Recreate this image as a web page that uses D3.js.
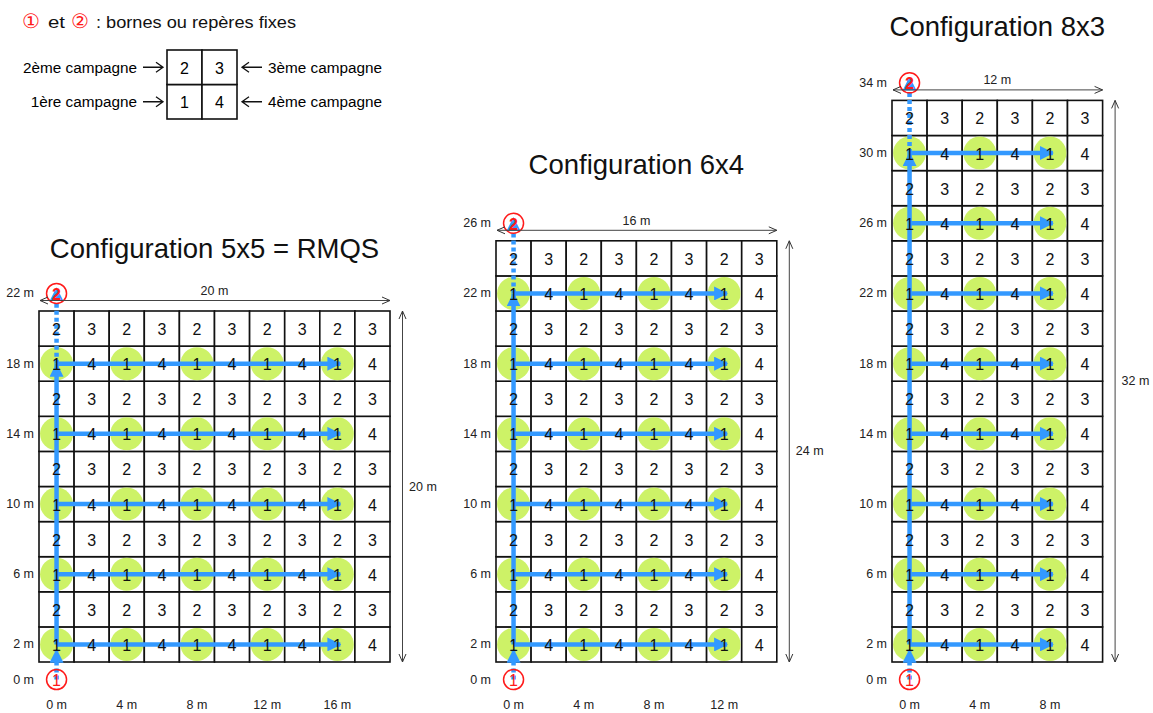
<!DOCTYPE html>
<html>
<head>
<meta charset="utf-8">
<script src="https://cdn.jsdelivr.net/npm/d3@7"></script>
<style>
  body { margin: 0; background: #fff; }
  svg { font-family: "Liberation Sans", Arial, sans-serif; }
</style>
</head>
<body>
<div id="chart"></div>
<script>
// Sampling plan: three grid configurations with campaign numbers per cell

const configNames = ["Configuration 5x5 = RMQS", "Configuration 6x4", "Configuration 8x3"];
const nCols = [10, 8, 6];
const nRows = [10, 12, 16];
const widthLabels = ["20 m", "16 m", "12 m"];
const heightLabels = ["20 m", "24 m", "32 m"];
const xTicks = [[0, 4, 8, 12, 16], [0, 4, 8, 12], [0, 4, 8]];
const yTicks = [
    [0, 2, 6, 10, 14, 18, 22],
    [0, 2, 6, 10, 14, 18, 22, 26],
    [0, 2, 6, 10, 14, 18, 22, 26, 30, 34]
];
// campaign number pattern: odd rows / even rows (counted from bottom)
const campaignPattern = [["1", "4"], ["2", "3"]];
const legendLeft = ["2ème campagne", "1ère campagne"];
const legendRight = ["3ème campagne", "4ème campagne"];
const markerLabels = ["1", "2"];

const width = 1153,
    height = 713,
    cell = 35.1,
    bottom = 662;

// layout of each configuration
const gridLeft = [39, 496, 892],
    titleY = [258, 174, 36];

const blue = "#3399ff",
    green = "#cdf267",
    red = "#ff1a1a";

let svg = d3.select("#chart")
    .append("svg")
    .attr("width", width)
    .attr("height", height)
    .attr("viewBox", [0, 0, width, height]);

// arrow markers
const defs = svg.append("defs");
defs.append("marker")
    .attr("id", "blueHead")
    .attr("markerUnits", "userSpaceOnUse")
    .attr("viewBox", "0 0 14 14")
    .attr("refX", 13).attr("refY", 7)
    .attr("markerWidth", 14).attr("markerHeight", 14)
    .attr("orient", "auto")
    .append("path")
    .attr("d", "M0,0 L14,7 L0,14 Z")
    .attr("fill", blue);

defs.append("marker")
    .attr("id", "grayHead")
    .attr("markerUnits", "userSpaceOnUse")
    .attr("viewBox", "0 0 10 10")
    .attr("refX", 9).attr("refY", 5)
    .attr("markerWidth", 10).attr("markerHeight", 10)
    .attr("orient", "auto-start-reverse")
    .append("path")
    .attr("d", "M1,1.5 L9,5 L1,8.5")
    .attr("fill", "none")
    .attr("stroke", "#333")
    .attr("stroke-width", 1);

// ---------- Legend ----------
const legend = svg.append("g");
const legParts = [
    {t: "①", red: true, x: 31},
    {t: "et", red: false, x: 48, len: 17},
    {t: "②", red: true, x: 80},
    {t: ": bornes ou repères fixes", red: false, x: 96, len: 200}
];
legend.selectAll(".legTitle")
    .data(legParts)
    .join("text")
    .attr("class", "legTitle")
    .attr("x", d => d.x)
    .attr("y", 28)
    .attr("text-anchor", d => d.red ? "middle" : "start")
    .attr("font-size", d => d.red ? 20 : 16)
    .attr("fill", d => d.red ? red : "#111")
    .attr("textLength", d => d.len || null)
    .attr("lengthAdjust", "spacingAndGlyphs")
    .text(d => d.t);

const legCell = {w: 35, h: 34.5, x: 167, y: 50};
const legX = d3.scaleBand().domain([0, 1]).range([legCell.x, legCell.x + 2 * legCell.w]);
const legY = d3.scaleBand().domain([1, 0]).range([legCell.y, legCell.y + 2 * legCell.h]);

for (let r of [0, 1]) {
    for (let c of [0, 1]) {
        legend.append("rect")
            .attr("x", legX(c)).attr("y", legY(r))
            .attr("width", legX.bandwidth()).attr("height", legY.bandwidth())
            .attr("fill", "#fff").attr("stroke", "#111").attr("stroke-width", 1.6);
        legend.append("text")
            .attr("x", legX(c) + legX.bandwidth() / 2)
            .attr("y", legY(r) + legY.bandwidth() / 2 + 1)
            .attr("text-anchor", "middle")
            .attr("dominant-baseline", "central")
            .attr("font-size", 16)
            .text(campaignPattern[r][c]);
    }
}

legendLeft.forEach((t, i) => {
    const yy = legY(1 - i) + legY.bandwidth() / 2;
    legend.append("text")
        .attr("x", 137).attr("y", yy)
        .attr("text-anchor", "end")
        .attr("dominant-baseline", "central")
        .attr("font-size", 15.3)
        .text(t);
    legend.append("path")
        .attr("d", `M143,${yy} L163,${yy} M156,${yy - 5} L163,${yy} L156,${yy + 5}`)
        .attr("fill", "none").attr("stroke", "#111").attr("stroke-width", 1.3);
});
legendRight.forEach((t, i) => {
    const yy = legY(1 - i) + legY.bandwidth() / 2;
    legend.append("text")
        .attr("x", 268).attr("y", yy)
        .attr("dominant-baseline", "central")
        .attr("font-size", 15.3)
        .text(t);
    legend.append("path")
        .attr("d", `M262,${yy} L242,${yy} M249,${yy - 5} L242,${yy} L249,${yy + 5}`)
        .attr("fill", "none").attr("stroke", "#111").attr("stroke-width", 1.3);
});

// ---------- Grids ----------
configNames.forEach((name, k) => {
    const cols = nCols[k], rows = nRows[k];
    const left = gridLeft[k], right = left + cols * cell, top = bottom - rows * cell;

    // metres: column c centre = 2(c-1), row r centre = 2r
    const x = d3.scaleLinear().domain([-1, 2 * cols - 1]).range([left, right]);
    const y = d3.scaleLinear().domain([1, 2 * rows + 1]).range([bottom, top]);

    const g = svg.append("g");

    g.append("text")
        .attr("x", (left + right) / 2).attr("y", titleY[k])
        .attr("text-anchor", "middle")
        .attr("font-size", 27.5)
        .attr("fill", "#111")
        .text(name);

    const cells = [];
    for (let r = 1; r <= rows; r++) {
        for (let c = 1; c <= cols; c++) {
            cells.push({r, c, mx: 2 * (c - 1), my: 2 * r,
                label: campaignPattern[(r - 1) % 2][(c - 1) % 2]});
        }
    }

    g.selectAll(".cell")
        .data(cells)
        .join("rect")
        .attr("class", "cell")
        .attr("x", d => x(d.mx - 1))
        .attr("y", d => y(d.my + 1))
        .attr("width", x(1) - x(-1))
        .attr("height", y(1) - y(3))
        .attr("fill", "#fff")
        .attr("stroke", "#111")
        .attr("stroke-width", 1.6);

    // sampled cells (campaign 1)
    const sampled = cells.filter(d => d.label === "1");
    g.selectAll(".spot")
        .data(sampled)
        .join("circle")
        .attr("class", "spot")
        .attr("cx", d => x(d.mx))
        .attr("cy", d => y(d.my))
        .attr("r", 16.5)
        .attr("fill", green);

    // horizontal path arrows
    const rowsWithOne = d3.range(1, rows + 1, 2);
    const lastCol = 2 * (cols - 2);
    g.selectAll(".hpath")
        .data(rowsWithOne)
        .join("line")
        .attr("class", "hpath")
        .attr("x1", x(0)).attr("x2", x(lastCol) + 3)
        .attr("y1", d => y(2 * d)).attr("y2", d => y(2 * d))
        .attr("stroke", blue).attr("stroke-width", 4.5)
        .attr("marker-end", "url(#blueHead)");

    // vertical path: dotted in, solid up the first column, dotted out
    const topRow = 2 * (rows - 1);
    const vSegs = [
        {from: 0, to: 2, dash: "4,3", off: -0.3},
        {from: 2, to: topRow, dash: null, off: 0},
        {from: topRow, to: 2 * rows + 2, dash: "4,3", off: 0.3}
    ];
    g.selectAll(".vpath")
        .data(vSegs)
        .join("line")
        .attr("class", "vpath")
        .attr("x1", x(0)).attr("x2", x(0))
        .attr("y1", d => y(d.from)).attr("y2", d => y(d.to + d.off))
        .attr("stroke", blue).attr("stroke-width", 4.5)
        .attr("stroke-dasharray", d => d.dash)
        .attr("marker-end", "url(#blueHead)");

    // cell numbers
    g.selectAll(".num")
        .data(cells)
        .join("text")
        .attr("class", "num")
        .attr("x", d => x(d.mx))
        .attr("y", d => y(d.my) + 1)
        .attr("text-anchor", "middle")
        .attr("dominant-baseline", "central")
        .attr("font-size", 16)
        .attr("fill", "#111")
        .text(d => d.label);

    // fixed markers 1 (start) and 2 (end)
    const marks = [{m: 0, t: markerLabels[0]}, {m: 2 * rows + 2, t: markerLabels[1]}];
    const mk = g.selectAll(".mark").data(marks).join("g").attr("class", "mark")
        .attr("transform", d => `translate(${x(0)},${y(d.m)})`);
    mk.append("circle")
        .attr("r", 10)
        .attr("fill", "none").attr("stroke", red).attr("stroke-width", 1.5);
    mk.append("text")
        .attr("text-anchor", "middle")
        .attr("dominant-baseline", "central")
        .attr("y", 1)
        .attr("font-size", 16)
        .attr("font-weight", d => d.t === "2" ? "bold" : "normal")
        .attr("fill", red)
        .text(d => d.t);

    // y tick labels
    g.selectAll(".ylab")
        .data(yTicks[k])
        .join("text")
        .attr("class", "ylab")
        .attr("x", left - 5)
        .attr("y", d => y(d))
        .attr("text-anchor", "end")
        .attr("dominant-baseline", "central")
        .attr("font-size", 12.5)
        .attr("fill", "#222")
        .text(d => d + " m");

    // x tick labels
    g.selectAll(".xlab")
        .data(xTicks[k])
        .join("text")
        .attr("class", "xlab")
        .attr("x", d => x(d))
        .attr("y", 705)
        .attr("text-anchor", "middle")
        .attr("dominant-baseline", "central")
        .attr("font-size", 12.5)
        .attr("fill", "#222")
        .text(d => d + " m");

    // dimension arrows
    g.append("line")
        .attr("x1", left + 1).attr("x2", right)
        .attr("y1", top - 10.5).attr("y2", top - 10.5)
        .attr("stroke", "#444").attr("stroke-width", 1)
        .attr("marker-start", "url(#grayHead)")
        .attr("marker-end", "url(#grayHead)");
    g.append("text")
        .attr("x", (left + right) / 2).attr("y", top - 20)
        .attr("text-anchor", "middle")
        .attr("dominant-baseline", "central")
        .attr("font-size", 12.5)
        .attr("fill", "#222")
        .text(widthLabels[k]);

    g.append("line")
        .attr("x1", right + 12.5).attr("x2", right + 12.5)
        .attr("y1", top).attr("y2", bottom)
        .attr("stroke", "#444").attr("stroke-width", 1)
        .attr("marker-start", "url(#grayHead)")
        .attr("marker-end", "url(#grayHead)");
    g.append("text")
        .attr("x", right + 19).attr("y", (top + bottom) / 2)
        .attr("dominant-baseline", "central")
        .attr("font-size", 12.5)
        .attr("fill", "#222")
        .text(heightLabels[k]);
});
</script>
</body>
</html>
